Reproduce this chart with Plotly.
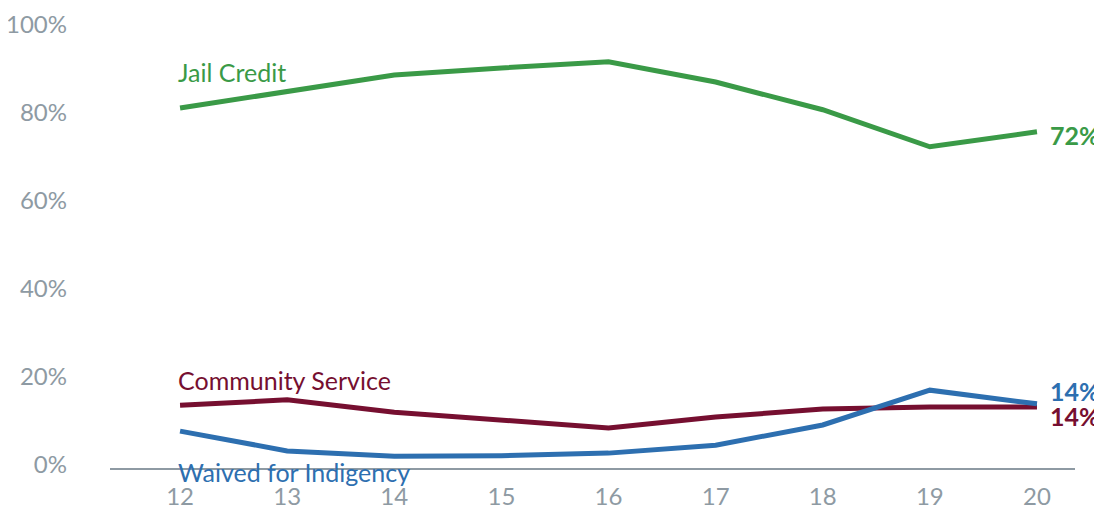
import plotly.graph_objects as go

years = [12, 13, 14, 15, 16, 17, 18, 19, 20]
jail_credit = [81.1, 84.8, 88.6, 90.2, 91.6, 87.0, 80.7, 72.3, 75.7]
community_service = [13.6, 14.8, 12.0, 10.2, 8.4, 10.9, 12.7, 13.2, 13.2]
waived = [7.7, 3.2, 2.0, 2.1, 2.7, 4.5, 9.1, 17.0, 13.9]
y_ticks = [0, 20, 40, 60, 80, 100]

GREEN = "#3a9a47"
MAROON = "#760f30"
BLUE = "#2d6fb0"
GRAY = "#8e9aa3"
FONT = "Lato"

fig = go.Figure()
for vals, color in [(jail_credit, GREEN), (community_service, MAROON), (waived, BLUE)]:
    fig.add_trace(go.Scatter(x=years, y=vals, mode="lines",
                             line=dict(color=color, width=5),
                             hoverinfo="skip", showlegend=False))

# series names on the left (paper y so the one under the axis is still drawn)
names = [("Jail Credit", 0.877, GREEN), ("Community Service", 0.195, MAROON),
         ("Waived for Indigency", -0.009, BLUE)]
for txt, y, color in names:
    fig.add_annotation(x=12, y=y, xref="x", yref="paper", text=txt, showarrow=False,
                       xanchor="left", yanchor="middle", xshift=-4,
                       font=dict(family=FONT, size=25, color=color))

# end-value labels
ends = [("72%", 75.0, GREEN), ("14%", 16.8, BLUE), ("14%", 11.1, MAROON)]
for txt, y, color in ends:
    fig.add_annotation(x=20.1, y=y, xref="x", yref="y", text="<b>" + txt + "</b>",
                       showarrow=False, xanchor="left", yanchor="middle",
                       font=dict(family=FONT, size=25, color=color))

# the page body adds an 8px margin, so shift/shrink the figure to fit the window
fig.update_layout(
    width=1094, height=501,
    margin=dict(l=102, r=27, t=8, b=41),
    paper_bgcolor="white", plot_bgcolor="white",
    font=dict(family=FONT, color=GRAY),
    xaxis=dict(range=[11.346, 20.355], tickvals=years, showgrid=False, zeroline=False,
               showline=True, linecolor=GRAY, linewidth=1.5, ticks="", automargin=False,
               tickfont=dict(size=24, color=GRAY), ticklabelstandoff=6),
    yaxis=dict(range=[-0.68, 102], tickvals=y_ticks, ticktext=[f"{v}%" for v in y_ticks],
               showgrid=False, zeroline=False, showline=False, ticks="", automargin=False,
               tickfont=dict(size=24, color=GRAY), ticklabelstandoff=42),
)

fig.write_html("out.html")
